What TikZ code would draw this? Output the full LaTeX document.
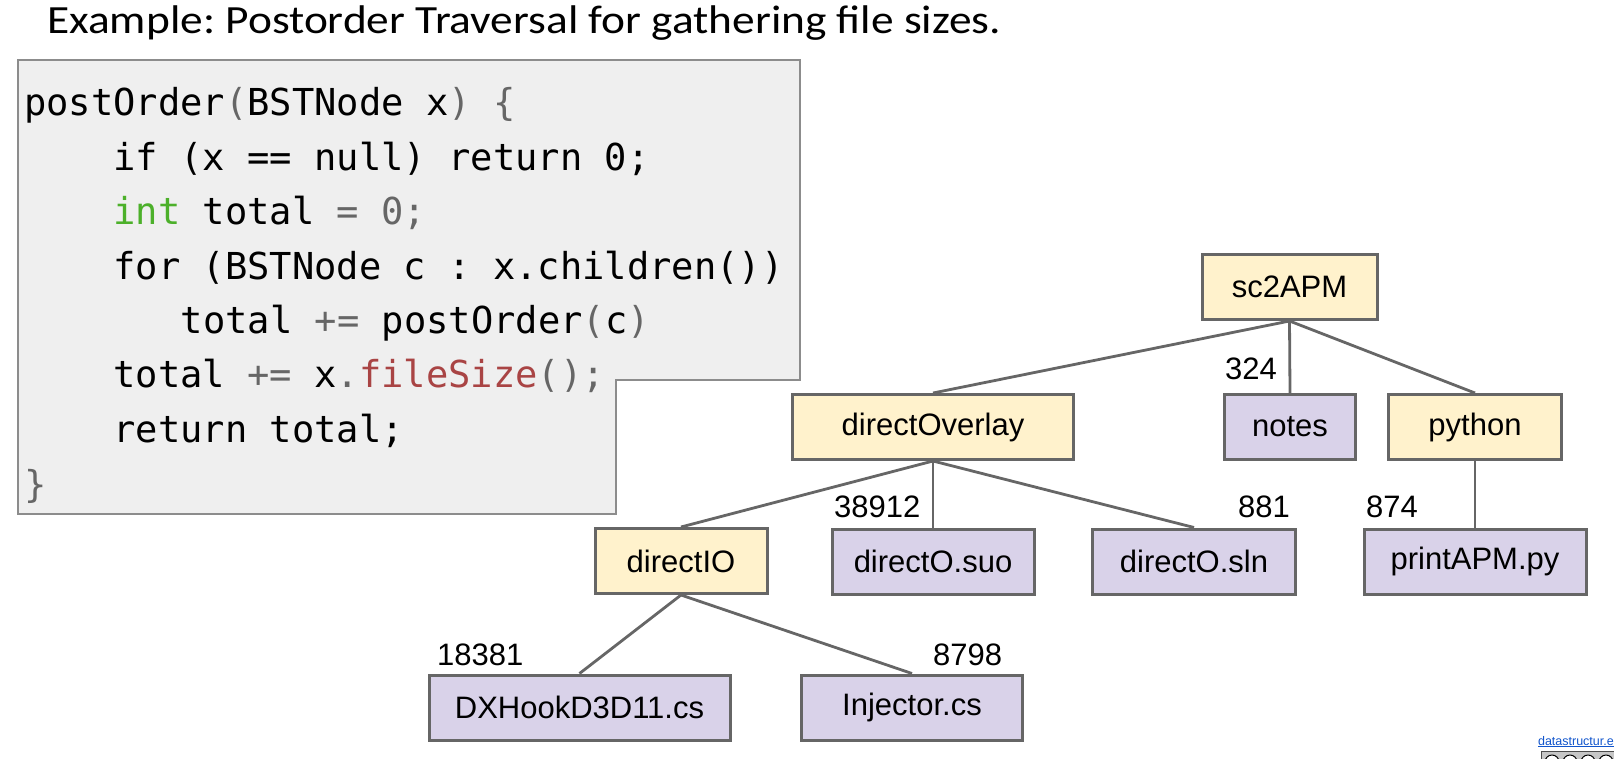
\documentclass[tikz,border=0pt]{standalone}
\usepackage{fontspec}
\setmainfont{Liberation Sans}
\newfontfamily\titlefont{Carlito}[FakeStretch=1.135]
\newfontfamily\codefont{DejaVu Sans Mono}[WordSpace={1,0,0}]
\definecolor{edgegray}{HTML}{666666}
\definecolor{boxgray}{HTML}{EFEFEF}
\definecolor{boxline}{HTML}{8C8C8C}
\definecolor{yfill}{HTML}{FFF2CC}
\definecolor{pfill}{HTML}{D9D2E9}
\definecolor{cgray}{HTML}{666666}
\definecolor{cgreen}{HTML}{4CB02A}
\definecolor{cred}{HTML}{A94444}
\definecolor{linkblue}{HTML}{1155CC}
\begin{document}
\frenchspacing
\begin{tikzpicture}[x=1pt,y=-1pt,
  tn/.style={draw=edgegray, line width=3pt, inner sep=0pt, minimum height=65pt, font=\fontsize{31}{31}\selectfont},
  dirn/.style={tn, fill=yfill},
  filen/.style={tn, fill=pfill},
  sz/.style={anchor=base west, inner sep=0pt, font=\fontsize{31}{31}\selectfont},
  cl/.style={anchor=base west, inner sep=0pt, font=\codefont\fontsize{37.1}{37.1}\selectfont},
  conn/.style={draw=edgegray, line width=2.8pt}
]
\useasboundingbox (0,0) rectangle (1614,758);

% title
\node[anchor=base west, inner sep=0pt, font=\titlefont\fontsize{40}{40}\selectfont] (title) at (47,33) {Example: Postorder Traversal for gathering file sizes.};

% code box
\draw[fill=boxgray, draw=boxline, line width=1.5pt] (18,60) -- (800,60) -- (800,380) -- (616,380) -- (616,514) -- (18,514) -- cycle;

\node[cl] (c1) at (24,115) {postOrder\textcolor{cgray}{(}BSTNode x\textcolor{cgray}{) \{}};
\node[cl] (c2) at (113.4,170) {if (x == null) return 0;};
\node[cl] (c3) at (113.4,224) {\textcolor{cgreen}{int} total \textcolor{cgray}{= 0;}};
\node[cl] (c4) at (113.4,279) {for (BSTNode c : x.children())};
\node[cl] (c5) at (180.5,333) {total \textcolor{cgray}{+=} postOrder\textcolor{cgray}{(}c\textcolor{cgray}{)}};
\node[cl] (c6) at (113.4,387) {total \textcolor{cgray}{+=} x\textcolor{cgray}{.}\textcolor{cred}{fileSize}\textcolor{cgray}{();}};
\node[cl] (c7) at (113.4,442.5) {return total;};
\node[cl] (c8) at (24,497) {\textcolor{cgray}{\}}};

% tree nodes
\node[dirn, minimum width=175pt] (root) at (1289.5,287) {sc2APM};
\node[dirn, minimum width=281pt] (overlay) at (933,427) {directOverlay};
\node[filen, minimum width=131pt] (notes) at (1290,427) {notes};
\node[dirn, minimum width=173pt] (python) at (1475,427) {python};
\node[dirn, minimum width=172pt] (dio) at (681,561) {directIO};
\node[filen, minimum width=202pt] (suo) at (933,561.5) {directO.suo};
\node[filen, minimum width=203pt] (sln) at (1194,561.5) {directO.sln};
\node[filen, minimum width=222pt] (print) at (1475,561.5) {printAPM.py};
\node[filen, minimum width=301pt] (dx) at (579.5,707.5) {DXHookD3D11.cs};
\node[filen, minimum width=221pt] (inj) at (912,707.5) {Injector.cs};

% connectors
\draw[conn] (root.south) -- (overlay.north);
\draw[conn] (root.south) -- (notes.north);
\draw[conn] (root.south) -- (python.north);
\draw[conn] (overlay.south) -- (dio.north);
\draw[conn] (overlay.south) -- (suo.north);
\draw[conn] (overlay.south) -- (sln.north);
\draw[conn] (python.south) -- (print.north);
\draw[conn] (dio.south) -- (dx.north);
\draw[conn] (dio.south) -- (inj.north);

% size labels
\node[sz] (l324) at (1225,379) {324};
\node[sz] (l38912) at (834,517) {38912};
\node[sz] (l881) at (1238,517) {881};
\node[sz] (l874) at (1366,517) {874};
\node[sz] (l18381) at (437,665) {18381};
\node[sz] (l8798) at (933,665) {8798};

% footer link and badge
\node[anchor=base east, inner sep=0pt, text=linkblue, font=\fontsize{12.5}{12.5}\selectfont] (link) at (1614,745) {\underline{datastructur.e}};
\draw[fill=gray!45, draw=black!70, line width=1pt] (1541,751) rectangle (1630,775);
\foreach \cx in {1552,1570,1588,1606} {\draw[fill=white, draw=black, line width=1pt] (\cx,762) circle (7);}
\end{tikzpicture}
\end{document}
